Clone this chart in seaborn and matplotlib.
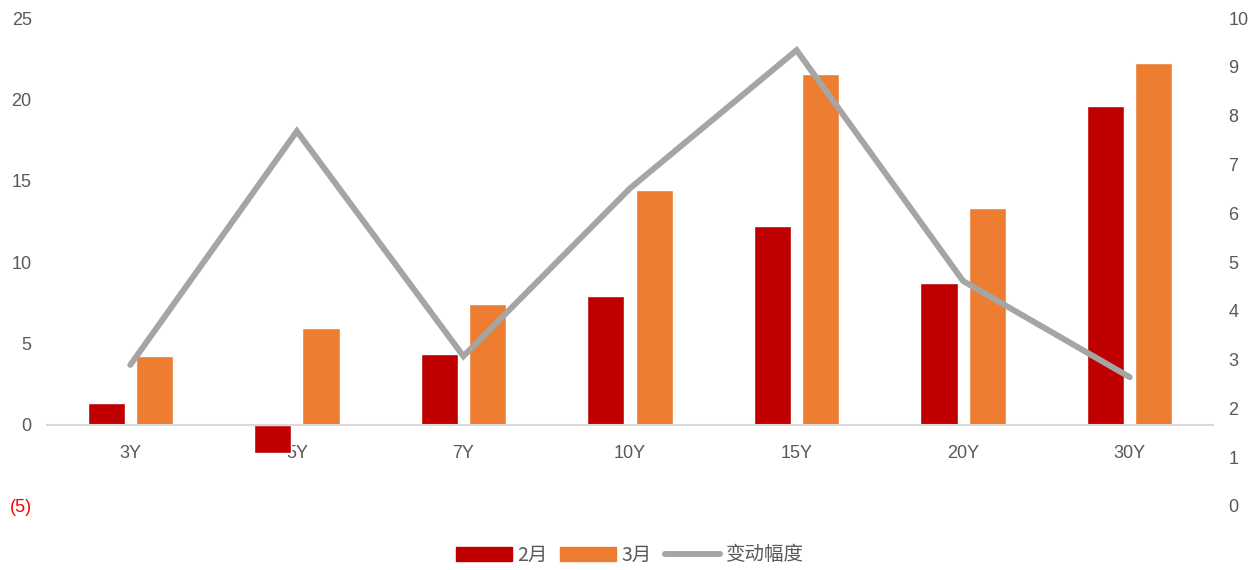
import numpy as np
import pandas as pd
import matplotlib
matplotlib.use("Agg")
import matplotlib.pyplot as plt
from matplotlib.patches import Patch
from matplotlib.lines import Line2D
from matplotlib.ticker import FuncFormatter
import seaborn as sns

# Data
tenors = ["3Y", "5Y", "7Y", "10Y", "15Y", "20Y", "30Y"]
feb = [1.35, -1.72, 4.36, 7.92, 12.22, 8.72, 19.60]
mar = [4.24, 5.96, 7.43, 14.43, 21.56, 13.33, 22.24]
change = [2.89, 7.68, 3.07, 6.51, 9.34, 4.61, 2.64]
series_names = ["2月", "3月"]
line_name = "变动幅度"
left_ticks = [-5, 0, 5, 10, 15, 20, 25]
right_ticks = list(range(0, 11))

RED = "#C00000"
ORANGE = "#ED7D31"
GREY = "#A5A5A5"
TEXT = "#595959"

sns.set_theme(style="white")
plt.rcParams["font.family"] = ["Liberation Sans", "Noto Sans CJK SC", "DejaVu Sans"]

df = pd.DataFrame({
    "tenor": tenors * 2,
    "value": feb + mar,
    "month": [series_names[0]] * len(tenors) + [series_names[1]] * len(tenors),
})

fig = plt.figure(figsize=(12.6, 5.7), dpi=100)
ax = fig.add_axes([0.0373, 0.1123, 0.9254, 0.8561])

sns.barplot(data=df, x="tenor", y="value", hue="month", order=tenors,
            hue_order=series_names, palette=[RED, ORANGE],
            width=0.58, gap=0.23, saturation=1, legend=False, ax=ax)

ax.set_ylim(-5, 25)
ax.set_xlim(-0.5, len(tenors) - 0.5)
ax.set_yticks(left_ticks)
ax.yaxis.set_major_formatter(FuncFormatter(
    lambda v, _: f"({abs(int(v))})" if v < 0 else f"{int(v)}"))
ax.set_xlabel("")
ax.set_ylabel("")
for s in ["top", "right", "left"]:
    ax.spines[s].set_visible(False)
ax.spines["bottom"].set_position(("data", 0))
ax.spines["bottom"].set_color("#D9D9D9")
ax.spines["bottom"].set_linewidth(1.5)
ax.tick_params(axis="x", length=0, pad=15, labelsize=13, labelcolor=TEXT)
ax.tick_params(axis="y", length=0, pad=11, labelsize=13, labelcolor=TEXT)
for lbl, v in zip(ax.get_yticklabels(), left_ticks):
    if v < 0:
        lbl.set_color("#FF0000")

ax2 = ax.twinx()
sns.lineplot(x=np.arange(len(tenors)), y=change, color=GREY, linewidth=4.3,
             ax=ax2, legend=False)
for ln in ax2.get_lines():
    ln.set_solid_capstyle("round")
    ln.set_solid_joinstyle("miter")
ax2.set_ylim(0, 10)
ax2.set_yticks(right_ticks)
ax2.set_ylabel("")
for s in ax2.spines.values():
    s.set_visible(False)
ax2.tick_params(axis="y", length=0, pad=11, labelsize=13, labelcolor=TEXT)
ax2.grid(False)
ax.grid(False)

handles = [Patch(facecolor=RED, edgecolor=RED),
           Patch(facecolor=ORANGE, edgecolor=ORANGE),
           Line2D([0], [0], color=GREY, linewidth=4.3, solid_capstyle="round")]
fig.legend(handles, series_names + [line_name], loc="center",
           bbox_to_anchor=(0.5, 15 / 570), ncol=3, frameon=False,
           labelcolor=TEXT, handlelength=2.85, handleheight=0.72,
           handletextpad=0.3, columnspacing=0.65,
           prop={"family": ["Noto Sans CJK SC", "DejaVu Sans"], "size": 14})

fig.savefig("out.png", dpi=100)
